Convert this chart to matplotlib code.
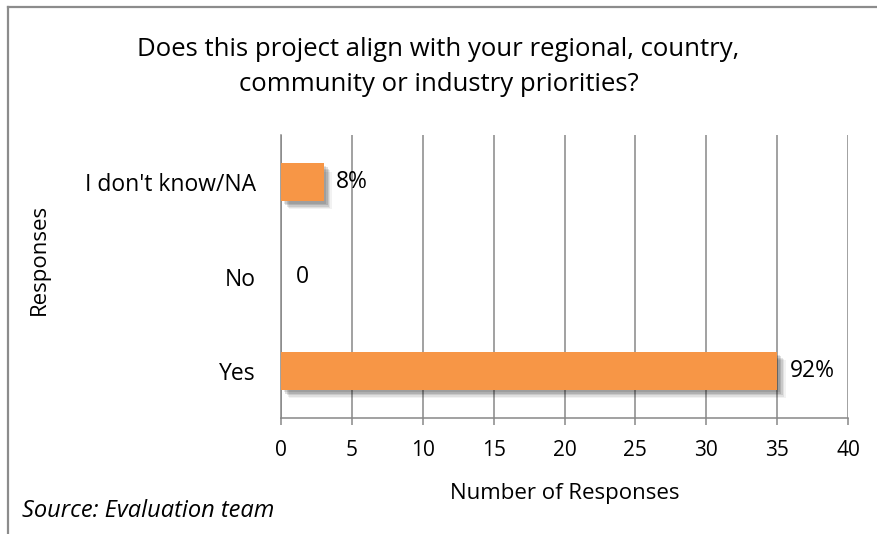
import matplotlib.pyplot as plt
import matplotlib.patheffects as pe
from matplotlib.lines import Line2D

plt.rcParams['font.family'] = ['Open Sans', 'DejaVu Sans']

# Survey results
categories = ["Yes", "No", "I don't know/NA"]
counts = [35, 0, 3]
total = sum(counts)
labels = [f"{round(100 * c / total)}%" if c else "0" for c in counts]

bar_color = '#F79646'
grid_color = '#878787'

fig = plt.figure(figsize=(8.77, 5.34), dpi=100)
ax = fig.add_axes([0.3204, 0.2172, 0.6466, 0.5300])

# soft drop shadow behind the bars
shadow = [pe.SimplePatchShadow(offset=(d, -d), shadow_rgbFace='black', alpha=a)
          for d, a in [(6, 0.05), (5, 0.07), (4, 0.10), (3, 0.12), (2, 0.10)]]
bars = ax.barh(range(len(categories)), counts, height=0.4, color=bar_color,
               path_effects=shadow + [pe.Normal()], zorder=3)

for i, (c, lab) in enumerate(zip(counts, labels)):
    off = 9 if c else 11
    ax.annotate(lab, (c, i), xytext=(off, 0), textcoords='offset points',
                va='center', ha='left', fontsize=16.5, color='black', zorder=4)

ax.set_xlim(0, 40)
ax.set_ylim(-0.5, 2.5)
ax.set_xticks(range(0, 41, 5))
ax.set_yticks(range(len(categories)))
ax.set_yticklabels(categories)
ax.tick_params(axis='x', length=5, width=1.1, color=grid_color, labelsize=15, pad=11)
ax.tick_params(axis='y', length=0, labelsize=16.5, pad=18)

ax.grid(axis='x', color=grid_color, linewidth=1.1, zorder=0)
ax.set_axisbelow(True)
for side in ['top', 'right']:
    ax.spines[side].set_visible(False)
for side in ['left', 'bottom']:
    ax.spines[side].set_color(grid_color)
    ax.spines[side].set_linewidth(1.1)

ax.set_xlabel('Number of Responses', fontsize=16, labelpad=16)
fig.text(0.045, 0.515, 'Responses', rotation=90, fontsize=16,
         ha='center', va='center')

fig.text(0.5, 0.8745,
         'Does this project align with your regional, country,\ncommunity or industry priorities?',
         ha='center', va='center', fontsize=18.5, linespacing=1.55)

fig.text(0.025, 0.043, 'Source: Evaluation team', fontsize=17, style='italic',
         ha='left', va='center')

# chart frame
fig.add_artist(Line2D([0.009, 1.0], [0.986, 0.986], transform=fig.transFigure,
                      color='#8c8c8c', linewidth=1.6))
fig.add_artist(Line2D([0.009, 0.009], [0.0, 0.986], transform=fig.transFigure,
                      color='#8c8c8c', linewidth=1.6))

fig.savefig('out.png', dpi=100)
